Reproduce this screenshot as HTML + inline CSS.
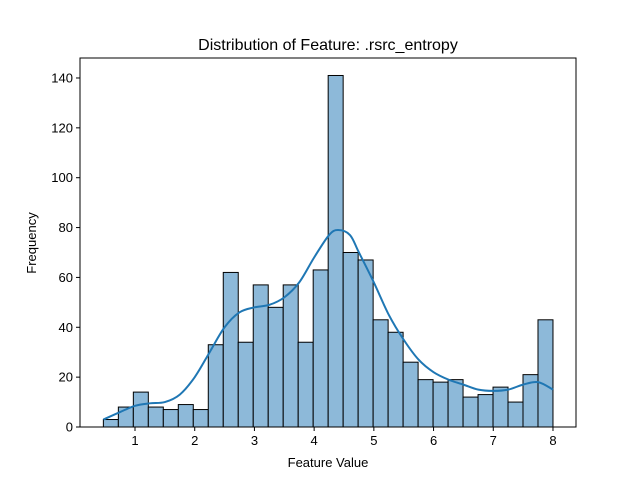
<!DOCTYPE html>
<html><head><meta charset="utf-8"><style>
body{margin:0;background:#fff;}
svg text{font-family:"Liberation Sans","DejaVu Sans",sans-serif;fill:#000;}
</style></head><body>
<svg id="chart" width="640" height="480">
<rect width="640" height="480" fill="#fff"/>
<text x="328" y="50" font-size="16" text-anchor="middle">Distribution of Feature: .rsrc_entropy</text>
<text x="328" y="467" font-size="13" text-anchor="middle">Feature Value</text>
<text x="36" y="243" font-size="13" text-anchor="middle" transform="rotate(-90 36 243)">Frequency</text>
<g id="bars"></g><g id="kde"></g><g id="axes"></g>
</svg>
<script>
const counts=[3,8,14,8,7,9,7,33,62,34,57,48,57,34,63,141,70,67,43,38,26,19,18,19,12,13,16,10,21,43];
const binStart=0.47, binEnd=8.0;
const kdeX=[0.47,0.75,1,1.25,1.5,1.75,2,2.25,2.5,2.75,3,3.25,3.5,3.75,4,4.25,4.4,4.6,4.75,5,5.25,5.5,5.75,6,6.25,6.5,6.75,7,7.25,7.5,7.75,8];
const kdeY=[3,6,8.5,9.5,10,13,20,30,40,46,48,49,52,58,68,77,79,77,70,58,45,35,27,22,19,17,15,14.5,15,17,18,15];
const xTicks=[1,2,3,4,5,6,7,8];
const yTicks=[0,20,40,60,80,100,120,140];
const L=80,R=576,T=58,B=427;
const sx=v=>75.3+v*59.71, sy=v=>427-v*2.493;
const ns="http://www.w3.org/2000/svg";
function mk(t,a,p){const e=document.createElementNS(ns,t);for(const k in a)e.setAttribute(k,a[k]);p.appendChild(e);return e;}
const bars=document.getElementById('bars');
const w=(binEnd-binStart)/counts.length;
counts.forEach((c,i)=>{const x0=sx(binStart+i*w),x1=sx(binStart+(i+1)*w);
const r=mk('rect',{x:x0,y:sy(c),width:x1-x0,height:sy(0)-sy(c),fill:'#8db9d9',stroke:'#000','stroke-width':1},bars);

});
const kde=document.getElementById('kde');
const P=kdeX.map((x,i)=>[sx(x),sy(kdeY[i])]);
let d='M'+P[0][0]+','+P[0][1];
for(let i=0;i<P.length-1;i++){const p0=P[Math.max(0,i-1)],p1=P[i],p2=P[i+1],p3=P[Math.min(P.length-1,i+2)];
const c1=[p1[0]+(p2[0]-p0[0])/6,p1[1]+(p2[1]-p0[1])/6],c2=[p2[0]-(p3[0]-p1[0])/6,p2[1]-(p3[1]-p1[1])/6];
d+=' C'+c1+' '+c2+' '+p2;}
const pl=mk('path',{d:d,fill:'none',stroke:'#1f77b4','stroke-width':2},kde);


const ax=document.getElementById('axes');
const fr=mk('rect',{x:L,y:T,width:R-L,height:B-T,fill:'none',stroke:'#000','stroke-width':1},ax);


xTicks.forEach(t=>{mk('line',{x1:sx(t),x2:sx(t),y1:B,y2:B+4,stroke:'#000'},ax);
const tx=mk('text',{x:sx(t),y:B+18,'font-size':13,'text-anchor':'middle'},ax);tx.textContent=t;

});
yTicks.forEach(t=>{mk('line',{x1:L-4,x2:L,y1:sy(t),y2:sy(t),stroke:'#000'},ax);
const tx=mk('text',{x:L-7,y:sy(t)+4.5,'font-size':13,'text-anchor':'end'},ax);tx.textContent=t;

});
</script>
</body></html>
